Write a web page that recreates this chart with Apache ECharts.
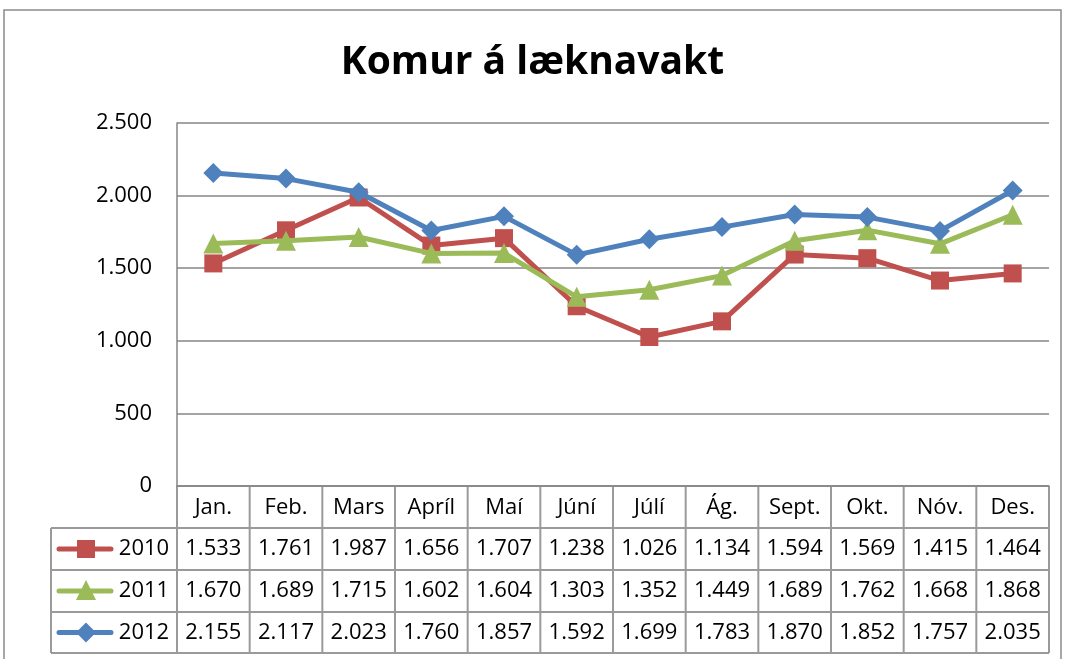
<!DOCTYPE html>
<html>
<head>
<meta charset="utf-8">
<script src="https://cdn.jsdelivr.net/npm/echarts@6/dist/echarts.min.js"></script>
<style>
html, body { margin: 0; padding: 0; background: #fff; }
#cc { width: 1065px; height: 659px; }
</style>
</head>
<body>
<div id="cc"></div>
<script>
var months = ['Jan.', 'Feb.', 'Mars', 'Apríl', 'Maí', 'Júní', 'Júlí', 'Ág.', 'Sept.', 'Okt.', 'Nóv.', 'Des.'];
var years = ['2010', '2011', '2012'];
var v2010 = [1533, 1761, 1987, 1656, 1707, 1238, 1026, 1134, 1594, 1569, 1415, 1464];
var v2011 = [1670, 1689, 1715, 1602, 1604, 1303, 1352, 1449, 1689, 1762, 1668, 1868];
var v2012 = [2155, 2117, 2023, 1760, 1857, 1592, 1699, 1783, 1870, 1852, 1757, 2035];
var yTicks = [0, 500, 1000, 1500, 2000, 2500];

var colors = ['#C0504D', '#9BBB59', '#4F81BD'];
var symbols = ['rect', 'triangle', 'diamond'];
var allValues = [v2010, v2011, v2012];
var FONT = 'Open Sans';
var FS = 22;

function fmt(n) {
    var s = String(n);
    return s.length > 3 ? s.slice(0, s.length - 3) + '.' + s.slice(-3) : s;
}

var chart = echarts.init(document.getElementById('cc'));

var gridL = 177, gridR = 1049, gridT = 123, gridB = 486;

var option = {
    animation: false,
    title: {
        text: 'Komur á læknavakt',
        left: 'center',
        top: 38,
        textStyle: { fontFamily: FONT, fontWeight: 'bold', fontSize: 39, color: '#000' }
    },
    grid: { left: gridL, right: 1065 - gridR, top: gridT, bottom: 659 - gridB },
    xAxis: {
        type: 'category',
        data: months,
        boundaryGap: true,
        axisLine: { lineStyle: { color: '#868686', width: 1.5 } },
        axisTick: { show: false },
        axisLabel: { show: false }
    },
    yAxis: {
        type: 'value',
        min: yTicks[0], max: yTicks[yTicks.length - 1], interval: 500,
        axisLine: { show: true, lineStyle: { color: '#868686', width: 1.5 } },
        axisTick: { show: false },
        splitLine: { lineStyle: { color: '#868686', width: 1.5 } },
        axisLabel: {
            fontFamily: FONT, fontSize: FS, color: '#000', margin: 25,
            formatter: function (v) { return fmt(v); }
        }
    },
    series: years.map(function (y, i) {
        return {
            name: y,
            type: 'line',
            data: allValues[i],
            symbol: symbols[i],
            symbolSize: i === 0 ? 18 : 20,
            lineStyle: { width: 5, color: colors[i] },
            itemStyle: { color: colors[i] },
            z: [2, 3, 4][i]
        };
    })
};

chart.setOption(option);

// data table under the plot
var colW = (gridR - gridL) / 12;
var tabL = 51, rowTops = [486, 528, 570, 612, 653];
var lineCol = '#9a9a9a';
var els = [];
function hline(x1, x2, y) {
    els.push({ type: 'line', shape: { x1: x1, y1: y, x2: x2, y2: y }, style: { stroke: lineCol, lineWidth: 2 }, silent: true });
}
function vline(x, y1, y2) {
    els.push({ type: 'line', shape: { x1: x, y1: y1, x2: x, y2: y2 }, style: { stroke: lineCol, lineWidth: 2 }, silent: true });
}
function txt(x, y, s) {
    els.push({ type: 'text', x: x, y: y, style: { text: s, fontFamily: FONT, fontSize: FS, fill: '#000', align: 'center', verticalAlign: 'middle' }, silent: true });
}
hline(gridL, gridR, rowTops[0]);
hline(tabL, gridR, rowTops[1]);
hline(tabL, gridR, rowTops[2]);
hline(tabL, gridR, rowTops[3]);
hline(tabL, gridR, rowTops[4]);
vline(tabL, rowTops[1], rowTops[4]);
for (var c = 0; c <= 12; c++) {
    vline(gridL + c * colW, rowTops[0], rowTops[4]);
}
months.forEach(function (m, c) {
    txt(gridL + (c + 0.5) * colW, (rowTops[0] + rowTops[1]) / 2 + 1, m);
});
allValues.forEach(function (arr, r) {
    var cy = (rowTops[r + 1] + rowTops[r + 2]) / 2;
    arr.forEach(function (v, c) {
        txt(gridL + (c + 0.5) * colW, cy, fmt(v));
    });
    // legend key
    els.push({ type: 'line', shape: { x1: 59, y1: cy, x2: 111, y2: cy }, style: { stroke: colors[r], lineWidth: 5, lineCap: 'round' }, silent: true });
    if (r === 0) {
        els.push({ type: 'rect', shape: { x: 77, y: cy - 9, width: 18, height: 18 }, style: { fill: colors[r] }, silent: true });
    } else if (r === 1) {
        els.push({ type: 'polygon', shape: { points: [[86, cy - 11], [96, cy + 9], [76, cy + 9]] }, style: { fill: colors[r] }, silent: true });
    } else {
        els.push({ type: 'polygon', shape: { points: [[86, cy - 10], [96, cy], [86, cy + 10], [76, cy]] }, style: { fill: colors[r] }, silent: true });
    }
    els.push({ type: 'text', x: 144, y: cy, style: { text: years[r], fontFamily: FONT, fontSize: FS, fill: '#000', align: 'center', verticalAlign: 'middle' }, silent: true });
});
// outer chart border
els.push({ type: 'polyline', shape: { points: [[4, 670], [4, 10], [1061, 10], [1061, 670]] }, style: { stroke: '#8a8a8a', lineWidth: 1.5, fill: null }, silent: true });

chart.setOption({ graphic: { elements: els } });
</script>
</body>
</html>
